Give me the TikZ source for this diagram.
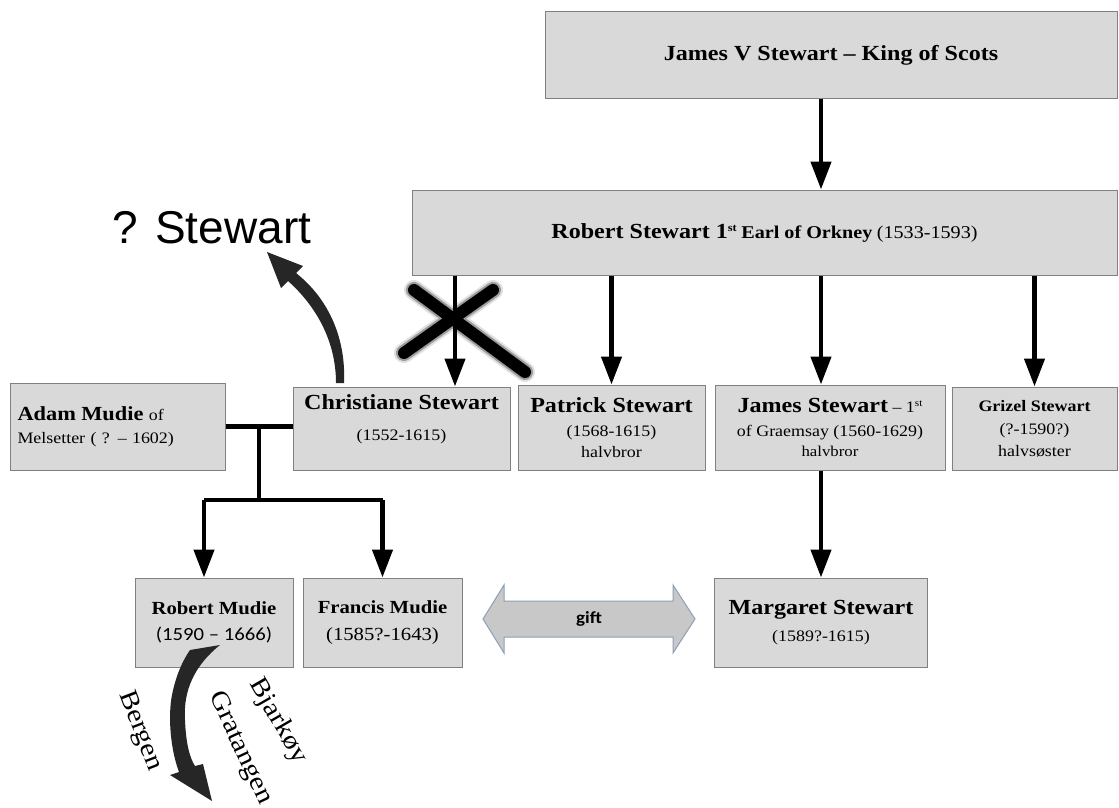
\documentclass[tikz,border=0pt]{standalone}
\usepackage{fontspec}
\setmainfont{Liberation Serif}[FakeStretch=1.12]
\newfontfamily\calfont{Carlito}[FakeStretch=1.12]
\newfontfamily\handfont{Liberation Sans}
\usetikzlibrary{arrows.meta,calc}
\definecolor{boxfill}{RGB}{217,217,217}
\definecolor{boxline}{RGB}{128,128,128}
\definecolor{giftfill}{RGB}{200,200,200}
\definecolor{giftline}{RGB}{140,160,180}
\newcommand\sz[1]{\fontsize{#1pt}{\fpeval{1.2*#1}pt}\selectfont}
\newcommand\ord[2]{\raisebox{#2}{\sz{#1}st}}

\begin{document}
\begin{tikzpicture}[x=1pt,y=-1pt,
    box/.style={draw=boxline, line width=1pt, fill=boxfill, inner sep=2pt, align=center, font=\sz{16}},
    conn/.style={line width=4.5pt, -{Triangle[width=20pt,length=28pt]}},
    link/.style={line width=4.5pt},
    place/.style={font=\sz{26}}]
    \path[use as bounding box, fill=white] (0,0) rectangle (1119,808);

    % generations
    \node[box, minimum width=572pt, minimum height=86pt] (king) at (831,55)
        {\sz{21.5}\bfseries James V Stewart – King of Scots};
    \node[box, minimum width=705pt, minimum height=85pt] (earl) at (764.5,232.5)
        {{\sz{21.5}\bfseries Robert Stewart 1\ord{11}{7pt}} {\sz{18}\bfseries Earl of Orkney} {\sz{18}(1533-1593)}};

    \node[box, minimum width=215pt, minimum height=87pt, align=left, text width=200pt] (adam) at (117.5,426.5)
        {{\sz{20}\bfseries Adam Mudie} of\\[4pt]Melsetter ( ? – 1602)};
    \node[box, minimum width=217pt, minimum height=83pt] (christiane) at (401.5,428.5)
        {{\sz{21.5}\bfseries Christiane Stewart}\\[12pt](1552-1615)\\[3pt]};
    \node[box, minimum width=187pt, minimum height=85pt] (patrick) at (611.5,427.5)
        {{\sz{21.5}\bfseries Patrick Stewart}\\[5pt](1568-1615)\\[2pt]halvbror};
    \node[box, minimum width=230pt, minimum height=85pt] (james) at (830,427.5)
        {{\sz{21.5}\bfseries James Stewart} – 1\ord{10}{6pt}\\[4pt]of Graemsay (1560-1629)\\[1pt]{\sz{15}halvbror}};
    \node[box, minimum width=165pt, minimum height=83pt] (grizel) at (1034.5,428.5)
        {{\bfseries Grizel Stewart}\\[4pt](?-1590?)\\[3pt]halvsøster};

    \node[box, minimum width=158pt, minimum height=89pt] (robert) at (214,622.5)
        {{\sz{18.5}\bfseries Robert Mudie}\\[7pt]{\calfont\sz{18.5}(1590 – 1666)}};
    \node[box, minimum width=159pt, minimum height=89pt] (francis) at (382.5,622.5)
        {{\sz{18.5}\bfseries Francis Mudie}\\[7pt]{\sz{18.5}(1585?-1643)}};
    \node[box, minimum width=213pt, minimum height=89pt] (margaret) at (821,622.5)
        {{\sz{21.5}\bfseries Margaret Stewart}\\[8pt](1589?-1615)};

    % descent
    \coordinate (xmark) at (455,325);
    \draw[conn] (king.south -| margaret) -- (earl.north -| margaret);
    \draw[line width=20pt, line cap=round, black, opacity=0.12] (414,290) -- (525,372) (404,353) -- (493,290);
    \draw[line width=16pt, line cap=round, black, opacity=0.3] (414,290) -- (525,372) (404,353) -- (493,290);
    \draw[line width=12pt, line cap=round] (414,290) -- (525,372) (404,353) -- (493,290);
    \draw[conn] (earl.south -| xmark) -- (christiane.north -| xmark);
    \draw[conn] (earl.south -| patrick) -- (patrick.north);
    \draw[conn] (earl.south -| margaret) -- (james.north -| margaret);
    \draw[conn] (earl.south -| grizel) -- (grizel.north);
    \draw[conn] (james.south -| margaret) -- (margaret.north);

    % marriage
    \draw[link] (adam.east) -- (adam.east -| christiane.west);
    \coordinate (wed) at ($(adam.east)!0.5!(adam.east -| christiane.west)$);
    \coordinate (bus) at (wed |- 0,500);
    \coordinate (rl) at ([xshift=-10pt]robert.north);
    \draw[link] (wed) -- (bus);
    \draw[link] (bus -| rl) -- (bus -| francis);
    \draw[conn] (bus -| rl) -- (rl);
    \draw[conn] (bus -| francis) -- (francis.north);

    % gift
    \filldraw[fill=giftfill, draw=giftline, line width=1pt] (483,619) -- (504,585) -- (504,601) -- (673,601)
        -- (673,585) -- (695,619) -- (673,653) -- (673,637) -- (504,637) -- (504,653) -- cycle;
    \node[font=\calfont\bfseries\sz{17}] (gift) at (589,619) {gift};

    % ? Stewart
    \node[font=\handfont\sz{46}, anchor=base] (qstew) at (212,243) {? Stewart};
    \fill[black!85] (336,383) .. controls (336,340) and (315,305) .. (288,281) -- (281,288) -- (267,252)
        -- (303,266) -- (296,273) .. controls (330,300) and (346,340) .. (344,383) -- cycle;

    % emigration
    \fill[black!85] (220,645) .. controls (195,665) and (183,690) .. (185,720) .. controls (186,745) and (190,758) .. (195,766)
        -- (203,764) -- (212,801) -- (170,775) -- (179,772) .. controls (170,748) and (168,715) .. (172,695)
        .. controls (176,675) and (183,660) .. (190,650) -- cycle;
    \node[place, rotate=-69] (bergen) at (140,731) {Bergen};
    \node[place, rotate=-65] (gratangen) at (240,748) {Gratangen};
    \node[place, rotate=-60] (bjarkoy) at (278,721) {Bjarkøy};
\end{tikzpicture}
\end{document}
